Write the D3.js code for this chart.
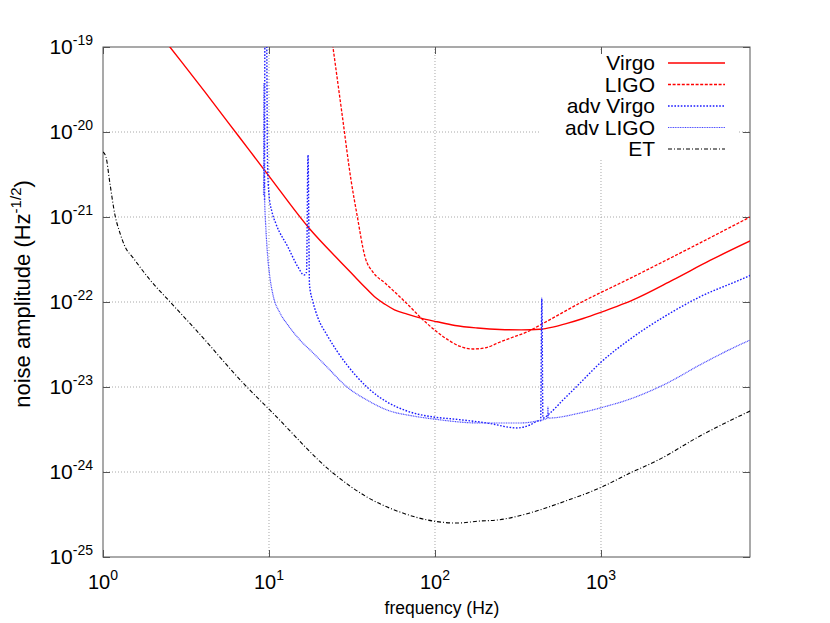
<!DOCTYPE html>
<html><head><meta charset="utf-8">
<script src="https://cdn.jsdelivr.net/npm/d3@7"></script>
<style>body{margin:0;background:#fff} text{font-family:"Liberation Sans",Arial,Helvetica,sans-serif;fill:#000}</style>
</head><body><svg id="c" width="830" height="623"></svg>
<script>
// ---- data (frequency in Hz, noise amplitude in Hz^-1/2) ----
const seriesNames = ["Virgo", "LIGO", "adv Virgo", "adv LIGO", "ET"];

const virgoF = [2.20, 2.53, 4.11, 6.69, 10.0, 17.4, 27.0, 33.0, 38.0, 44.0, 50.0, 57.0, 68.0, 81.2, 103, 132, 180, 246, 330, 429, 520, 624, 780, 986, 1250, 1560, 2716, 4536, 7907];
const virgoH = [1.42e-19, 1.0e-19, 2.96e-20, 8.49e-21, 3.03e-21, 7.43e-22, 2.96e-22, 1.97e-22, 1.48e-22, 1.12e-22, 9.4e-23, 8.1e-23, 7.2e-23, 6.5e-23, 5.85e-23, 5.3e-23, 4.95e-23, 4.75e-23, 4.7e-23, 4.78e-23, 5.1e-23, 5.6e-23, 6.4e-23, 7.5e-23, 8.9e-23, 1.06e-22, 1.82e-22, 3.08e-22, 5.22e-22];

const ligoF = [23.96, 27.5, 31.2, 33.9, 37.9, 42.3, 50.0, 59.0, 70.0, 81.2, 103, 125, 142, 169, 200, 246, 300, 358, 448, 747, 1434, 3436, 7907];
const ligoH = [1.21e-19, 1.67e-20, 2.72e-21, 1.06e-21, 3.38e-22, 2.25e-22, 1.67e-22, 1.24e-22, 8.97e-23, 6.67e-23, 4.44e-23, 3.4e-23, 3.0e-23, 2.80e-23, 2.88e-23, 3.38e-23, 3.9e-23, 4.44e-23, 5.6e-23, 9.73e-23, 1.82e-22, 4.31e-22, 1.0e-21];

const advVirgoF = [9.40, 9.46, 9.66, 9.79, 10.0, 10.42, 11.02, 13.0, 14.95, 16.26, 16.83, 17.18, 17.54, 18.41, 19.73, 22.35, 25.5, 29.5, 33.5, 38.9, 45.0, 51.4, 67.8, 97.3, 128, 206, 312, 373, 417, 433, 440, 447, 493, 590, 747, 986, 1560, 2500, 3945, 6871, 7907];
const advVirgoH = [1.585e-21, 2.08e-19, 2.08e-19, 4.69e-21, 1.82e-21, 1.15e-21, 8.28e-22, 4.44e-22, 2.58e-22, 2.08e-22, 2.25e-22, 5.36e-21, 1.585e-22, 1.0e-22, 6.49e-23, 4.09e-23, 2.7e-23, 1.82e-23, 1.35e-23, 1.0e-23, 7.9e-24, 6.67e-24, 5.22e-24, 4.44e-24, 4.21e-24, 3.77e-24, 3.30e-24, 3.57e-24, 3.98e-24, 4.0e-24, 1.11e-22, 4.31e-24, 4.94e-24, 7.03e-24, 1.11e-23, 1.91e-23, 3.87e-23, 7.03e-23, 1.15e-22, 1.82e-22, 2.05e-22];

const advLigoF = [9.27, 9.33, 9.40, 9.59, 9.86, 10.14, 10.57, 11.65, 13.0, 15.37, 18.5, 22.35, 29.5, 38.9, 51.4, 73.7, 97.3, 187, 325, 411, 476, 479, 482, 747, 986, 1560, 2500, 3945, 6237, 7907];
const advLigoH = [1.82e-21, 3.77e-20, 1.82e-21, 7.03e-22, 3.12e-22, 1.91e-22, 1.21e-22, 7.43e-23, 5.36e-23, 3.57e-23, 2.5e-23, 1.72e-23, 1.0e-23, 7.03e-24, 5.36e-24, 4.56e-24, 4.21e-24, 3.77e-24, 3.77e-24, 3.98e-24, 4.31e-24, 5.82e-24, 4.31e-24, 4.94e-24, 5.66e-24, 7.43e-24, 1.11e-23, 1.82e-23, 2.88e-23, 3.57e-23];

const etF = [1, 1.042, 1.10, 1.18, 1.265, 1.36, 1.52, 1.92, 2.54, 3.63, 7.36, 10.4, 24.3, 38.9, 61.5, 97.3, 136, 187, 236, 373, 590, 1014, 1496, 2203, 3945, 7907];
const etH = [5.82e-21, 5.08e-21, 2.51e-21, 1.06e-21, 6.49e-22, 4.44e-22, 3.30e-22, 1.82e-22, 1.0e-22, 4.69e-23, 1.0e-23, 5.08e-24, 9.73e-25, 5.08e-25, 3.38e-25, 2.65e-25, 2.51e-25, 2.65e-25, 2.72e-25, 3.30e-25, 4.44e-25, 6.67e-25, 9.73e-25, 1.38e-24, 2.65e-24, 5.22e-24];

const xTickValues = [1, 10, 100, 1000];
const xTickExps = ["0", "1", "2", "3"];
const yTickValues = [1e-19, 1e-20, 1e-21, 1e-22, 1e-23, 1e-24, 1e-25];
const yTickExps = ["-19", "-20", "-21", "-22", "-23", "-24", "-25"];

// ---- layout ----
const L = 103, R = 750, T = 47, B = 557;
const svg = d3.select("#c");
const x = d3.scaleLog().domain([1, 7900]).range([L, R]);
const y = d3.scaleLog().domain([1e-25, 1e-19]).range([B, T]);

// grid
const grid = svg.append("g").attr("stroke", "#a8a8a8").attr("stroke-width", 1).attr("stroke-dasharray", "1,2");
xTickValues.slice(1).forEach(v => grid.append("line").attr("x1", x(v)).attr("x2", x(v)).attr("y1", B).attr("y2", T));
yTickValues.slice(1, -1).forEach(v => grid.append("line").attr("x1", L).attr("x2", R).attr("y1", y(v)).attr("y2", y(v)));

// legend background
svg.append("rect").attr("x", 540).attr("y", 52).attr("width", 199).attr("height", 106).attr("fill", "#fff");

// axes (ticks on all sides, inward)
const tk = 7;
svg.append("g").attr("transform", `translate(0,${B})`).call(d3.axisBottom(x).tickValues(xTickValues).tickSize(-tk).tickFormat(""));
svg.append("g").attr("transform", `translate(0,${T})`).call(d3.axisTop(x).tickValues(xTickValues).tickSize(-tk).tickFormat(""));
svg.append("g").attr("transform", `translate(${L},0)`).call(d3.axisLeft(y).tickValues(yTickValues).tickSize(-tk).tickFormat(""));
svg.append("g").attr("transform", `translate(${R},0)`).call(d3.axisRight(y).tickValues(yTickValues).tickSize(-tk).tickFormat(""));
svg.selectAll(".domain").remove();
svg.selectAll(".tick line").attr("stroke", "#555");
svg.append("rect").attr("x", L).attr("y", T).attr("width", R - L).attr("height", B - T)
  .attr("fill", "none").attr("stroke", "#555").attr("stroke-width", 1);

// tick labels
xTickValues.forEach((v, i) => {
  const t = svg.append("text").attr("x", x(v)).attr("y", 589).attr("text-anchor", "middle").attr("font-size", 20);
  t.append("tspan").text("10");
  t.append("tspan").attr("dy", -9).attr("font-size", 14).text(xTickExps[i]);
});
yTickValues.forEach((v, i) => {
  const t = svg.append("text").attr("x", 93).attr("y", y(v) + 7).attr("text-anchor", "end").attr("font-size", 21);
  t.append("tspan").text("10");
  t.append("tspan").attr("dy", -9).attr("font-size", 14).text(yTickExps[i]);
});

// axis titles
svg.append("text").attr("x", 442).attr("y", 614).attr("text-anchor", "middle").attr("font-size", 17.5).text("frequency (Hz)");
const yl = svg.append("text").attr("transform", "translate(30,294) rotate(-90)").attr("text-anchor", "middle").attr("font-size", 22);
yl.append("tspan").text("noise amplitude (Hz");
yl.append("tspan").attr("dy", -9).attr("font-size", 15).text("-1/2");
yl.append("tspan").attr("dy", 9).text(")");

// curves
svg.append("clipPath").attr("id", "clip").append("rect").attr("x", L).attr("y", T).attr("width", R - L).attr("height", B - T);
const styles = [
  {c: "#ff0000", d: null, w: 1.4},
  {c: "#ff0000", d: "3,1.6", w: 1.3},
  {c: "#1a1aff", d: "1.6,1.6", w: 1.4},
  {c: "#4646ff", d: "1,0.7", w: 1.2},
  {c: "#000000", d: "4,2,1,2", w: 1.1}
];
const data = [[virgoF, virgoH], [ligoF, ligoH], [advVirgoF, advVirgoH], [advLigoF, advLigoH], [etF, etH]];
const line = d3.line().x(d => x(d[0])).y(d => y(d[1])).curve(d3.curveMonotoneX);
const cg = svg.append("g").attr("clip-path", "url(#clip)");
data.forEach((s, i) => {
  const pts = s[0].map((f, j) => [f, s[1][j]]);
  cg.append("path").attr("d", line(pts)).attr("fill", "none").attr("stroke", styles[i].c)
    .attr("stroke-width", styles[i].w).attr("stroke-dasharray", styles[i].d);
});

// legend
const legY = [63, 84.5, 106, 127.5, 149];
seriesNames.forEach((n, i) => {
  svg.append("text").attr("x", 655).attr("y", legY[i] + 7).attr("text-anchor", "end").attr("font-size", 21).text(n);
  svg.append("line").attr("x1", 668).attr("x2", 725).attr("y1", legY[i]).attr("y2", legY[i])
    .attr("stroke", styles[i].c).attr("stroke-width", styles[i].w).attr("stroke-dasharray", styles[i].d);
});
</script></body></html>
